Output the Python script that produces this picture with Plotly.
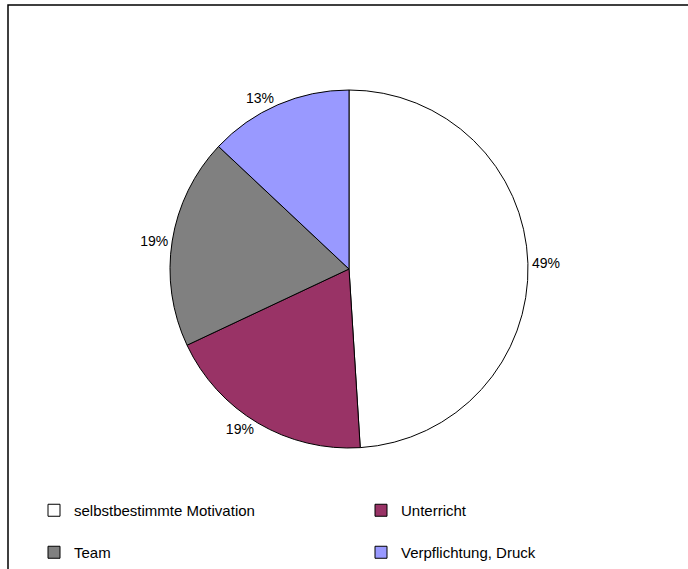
import plotly.graph_objects as go

categories = ["selbstbestimmte Motivation", "Unterricht", "Team", "Verpflichtung, Druck"]
values = [49, 19, 19, 13]
colors = ["#FFFFFF", "#993366", "#808080", "#9999FF"]

W, H = 688, 569
cx, cy = 349, 269
dx, dy = 225, 179

# first legend row gets an empty second line so that the rows are spaced apart
legend_labels = [c + ("<br> " if i < 2 else "") for i, c in enumerate(categories)]

fig = go.Figure(go.Pie(
    labels=legend_labels,
    values=values,
    sort=False,
    direction="clockwise",
    rotation=0,
    marker=dict(colors=colors, line=dict(color="#000000", width=1)),
    textinfo="percent",
    texttemplate="%{percent:.0%}",
    textposition="outside",
    outsidetextfont=dict(family="Liberation Sans, Arial", size=14, color="#000000"),
    hoverinfo="label+percent",
    domain=dict(x=[(cx - dx) / W, (cx + dx) / W], y=[(H - cy - dy) / H, (H - cy + dy) / H]),
))

fig.update_layout(
    width=W, height=H,
    margin=dict(l=0, r=0, t=0, b=0),
    paper_bgcolor="#FFFFFF",
    showlegend=True,
    legend=dict(
        orientation="h",
        x=44 / W, xanchor="left",
        y=0, yanchor="bottom",
        entrywidth=282, entrywidthmode="pixels",
        valign="top",
        font=dict(family="Liberation Sans, Arial", size=15, color="#000000"),
        traceorder="normal",
    ),
    shapes=[dict(type="rect", xref="paper", yref="paper",
                 x0=8 / W, x1=1.05, y0=-0.05, y1=1 - 5 / H,
                 line=dict(color="#000000", width=1.5), fillcolor="rgba(0,0,0,0)")],
)

fig.write_html("out.html")
